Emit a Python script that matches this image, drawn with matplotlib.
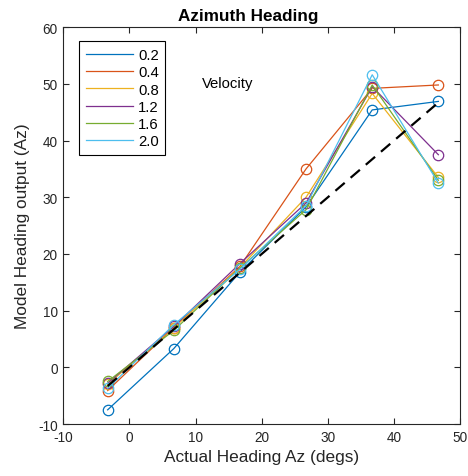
import matplotlib
matplotlib.use("Agg")
import matplotlib.pyplot as plt

plt.rcParams['font.family'] = ['Liberation Sans', 'DejaVu Sans']
plt.rcParams['axes.unicode_minus'] = False

x = [-3.3, 6.7, 16.7, 26.7, 36.7, 46.7]
velocities = ['0.2', '0.4', '0.8', '1.2', '1.6', '2.0']
v02 = [-7.5, 3.3, 16.8, 28.3, 45.4, 46.9]
v04 = [-4.1, 7.0, 17.8, 35.0, 49.2, 49.8]
v08 = [-3.0, 7.0, 17.6, 30.0, 48.3, 33.5]
v12 = [-2.8, 7.2, 18.3, 29.0, 49.5, 37.5]
v16 = [-2.5, 6.5, 17.5, 27.8, 49.8, 33.0]
v20 = [-3.7, 7.5, 17.3, 28.5, 51.6, 32.5]
series = [v02, v04, v08, v12, v16, v20]
colors = ['#0072BD', '#D95319', '#EDB120', '#7E2F8E', '#77AC30', '#4DBEEE']
ideal_x = [-3.3, 46.7]
ideal_y = [-3.3, 46.7]

fig = plt.figure(figsize=(4.68, 4.77), dpi=100)
ax = fig.add_axes([0.1353, 0.109, 0.848, 0.832])

for s, c, lab in zip(series, colors, velocities):
    ax.plot(x, s, color=c, lw=0.9, marker='o', markersize=7.5,
            markerfacecolor='none', markeredgecolor=c, markeredgewidth=0.9, label=lab)
ax.plot(ideal_x, ideal_y, color='black', lw=1.6, ls=(0, (5.5, 3.5)))

ax.set_xlim(-10, 50)
ax.set_ylim(-10, 60)
ax.set_xticks([-10, 0, 10, 20, 30, 40, 50])
ax.set_yticks([-10, 0, 10, 20, 30, 40, 50, 60])
ax.tick_params(direction='in', top=True, right=True, length=4, width=0.8,
               labelsize=9.8, colors='#262626', pad=4)
for sp in ax.spines.values():
    sp.set_color('#262626')
    sp.set_linewidth(0.8)

ax.set_xlabel('Actual Heading Az (degs)', fontsize=12.4, color='#262626', labelpad=4)
ax.set_ylabel('Model Heading output (Az)', fontsize=12.4, color='#262626', labelpad=6)
ax.set_title('Azimuth Heading', fontsize=12.3, fontweight='bold', x=0.465, pad=5)

leg = ax.legend(handles=ax.lines[:6], loc='upper left', bbox_to_anchor=(0.040, 0.964),
                borderaxespad=0, fontsize=10.7, handlelength=3.2, labelspacing=0.22,
                handletextpad=0.3, borderpad=0.45, fancybox=False, framealpha=1,
                edgecolor='black')
leg.get_frame().set_linewidth(0.8)
for h in leg.legend_handles:
    h.set_marker('')

ax.text(11.0, 50.1, 'Velocity', fontsize=10.7, va='center', ha='left')

fig.savefig('out.png', dpi=100)
